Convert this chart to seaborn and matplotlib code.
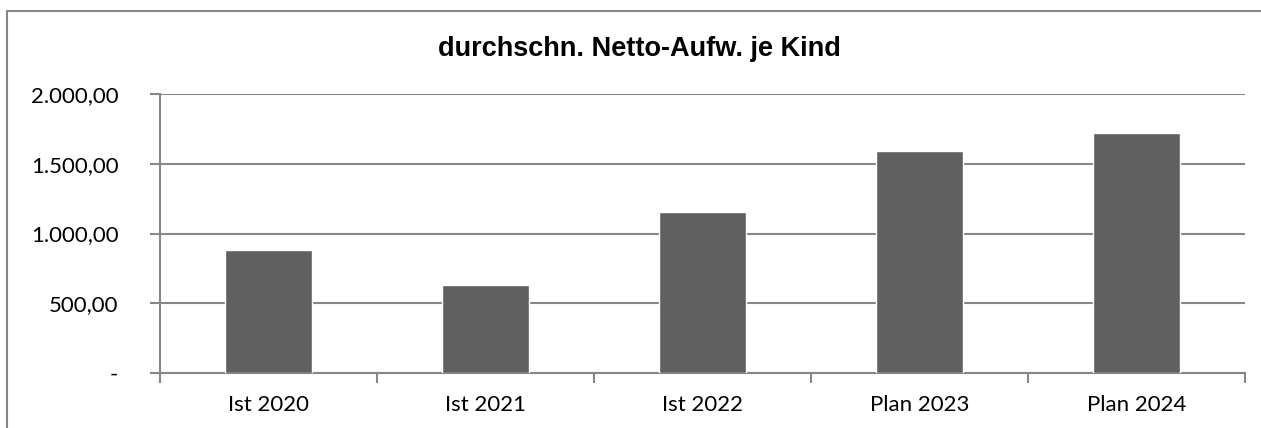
import matplotlib
matplotlib.use("Agg")
import matplotlib.pyplot as plt
from matplotlib.lines import Line2D
from matplotlib.ticker import FuncFormatter, FixedLocator
import seaborn as sns
import pandas as pd

categories = ["Ist 2020", "Ist 2021", "Ist 2022", "Plan 2023", "Plan 2024"]
values = [885, 632, 1153, 1593, 1718]
y_ticks = [0, 500, 1000, 1500, 2000]
title = "durchschn. Netto-Aufw. je Kind"


def de_format(v, pos=None):
    if abs(v) < 1e-9:
        return "-"
    s = f"{v:,.2f}"
    return s.replace(",", "X").replace(".", ",").replace("X", ".")


sns.set_theme(style="white")
plt.rcParams["font.family"] = ["Lato", "DejaVu Sans"]
plt.rcParams["text.color"] = "black"
plt.rcParams["xtick.labelcolor"] = "black"
plt.rcParams["ytick.labelcolor"] = "black"

df = pd.DataFrame({"cat": categories, "val": values})

W, H = 1261, 428
fig = plt.figure(figsize=(W / 100, H / 100), dpi=100)
ax = fig.add_axes([160 / W, 1 - 373 / H, (1245 - 160) / W, (373 - 94) / H])

grid_color = "#878787"
sns.barplot(data=df, x="cat", y="val", color="#606060", width=0.4,
            saturation=1, ax=ax, zorder=3)

ax.set_xlim(-0.5, len(categories) - 0.5)
ax.set_ylim(0, 2000)
ax.yaxis.set_major_locator(FixedLocator(y_ticks))
ax.yaxis.set_major_formatter(FuncFormatter(de_format))
ax.grid(axis="y", color=grid_color, linewidth=1.5, zorder=0)
ax.set_axisbelow(True)

# category ticks at the boundaries, labels centered
ax.set_xticks([i - 0.5 for i in range(len(categories) + 1)], minor=True)
ax.set_xticks(range(len(categories)))
ax.set_xticklabels(categories)
ax.tick_params(axis="x", which="major", length=0, pad=16, labelsize=16)
ax.tick_params(axis="x", which="minor", length=7, width=1.5, color=grid_color,
               direction="out", bottom=True)
ax.tick_params(axis="y", length=7, width=1.5, color=grid_color, direction="out",
               left=True, pad=23, labelsize=16)

for side in ["top", "right"]:
    ax.spines[side].set_visible(False)
for side in ["left", "bottom"]:
    ax.spines[side].set_color(grid_color)
    ax.spines[side].set_linewidth(1.5)

ax.set_xlabel("")
ax.set_ylabel("")

fig.text(639 / W, 1 - 49 / H, title, ha="center", va="center", color="black",
         fontsize=19.5, fontweight="bold", family=["Liberation Sans", "DejaVu Sans"])

# outer chart frame (top and left edges visible in the crop)
fig.add_artist(Line2D([7 / W, 1], [1 - 11 / H, 1 - 11 / H], color=grid_color,
                      linewidth=1.5, transform=fig.transFigure))
fig.add_artist(Line2D([7 / W, 7 / W], [0, 1 - 11 / H], color=grid_color,
                      linewidth=1.5, transform=fig.transFigure))

fig.savefig("out.png", dpi=100)
